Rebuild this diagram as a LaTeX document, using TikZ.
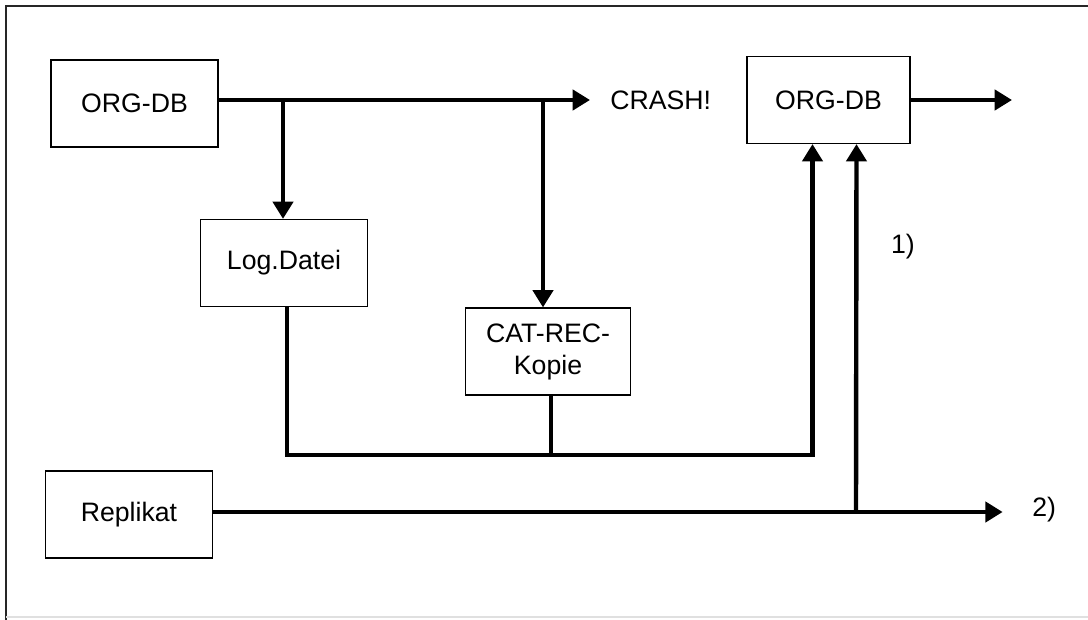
\documentclass[tikz,border=0pt]{standalone}
\usepackage{fontspec}
\setmainfont{Liberation Sans}
\usetikzlibrary{arrows.meta}
\tikzset{
	box/.style={draw, line width=1.1pt, minimum width=125pt, minimum height=65pt, inner sep=0pt, align=center},
	wire/.style={line width=3.3pt},
	flow/.style={wire, -{Triangle[length=13pt,width=15pt]}},
	lbl/.style={inner sep=0pt}
}
\begin{document}
\begin{tikzpicture}[x=0.75pt,y=-0.75pt,font=\fontsize{20}{24}\selectfont]
		\useasboundingbox (0,0) rectangle (1088,620);
		% frame
		\draw[line width=1.6pt,black!85] (6,620) -- (6,6) -- (1088,6);
		\draw[line width=1pt,black!12] (6,617) -- (1088,617);
		% boxes
		\node[box] (orgA) at (134.5,103.5) {ORG-DB};
		\node[box] (logd) at (284,263) {Log.Datei};
		\node[box, minimum width=124pt] (catrec) at (548,351.5) {CAT-REC-\\Kopie};
		\node[box, minimum width=122pt] (orgB) at (828.5,100) {ORG-DB};
		\node[box] (repl) at (129,514.5) {Replikat};
		\node[lbl, anchor=west] (crash) at (610,100) {CRASH!};
		\node[lbl] (one) at (903,247) {1)};
		\node[lbl, anchor=west] (two) at (1032,510) {2)};
		\coordinate (out) at (1012,100);
		% backup paths
		\draw[flow, shorten >=15pt] (orgA.east |- 0,100) -- (crash.west);
		\draw[flow] (283,100) -- (logd.north -| 283,0);
		\draw[flow] (543,100) -- (catrec.north -| 543,0);
		\draw[flow] (logd.south -| 287,0) |- ([xshift=-12pt]orgB.south |- 0,455) -- ([xshift=-12pt]orgB.south);
		\draw[wire] (catrec.south -| 551,0) -- (551,455);
		% replica path
		\draw[flow, shorten >=22pt] (repl.east |- 0,512) -- (two.west |- 0,512);
		\draw[flow] (856,512) -- ([xshift=21pt]orgB.south);
		\draw[flow] (orgB.east) -- (out);
	\end{tikzpicture}
\end{document}
